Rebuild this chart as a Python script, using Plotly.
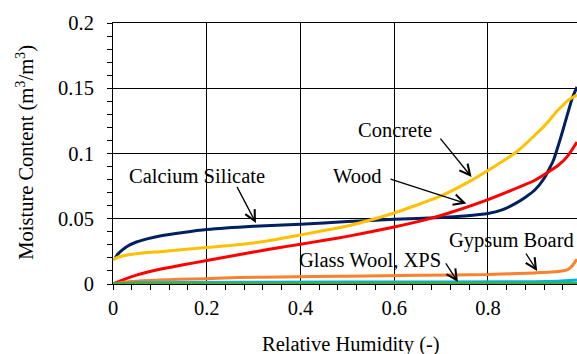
import plotly.graph_objects as go

# ---- data ----
cs_x = [0.005, 0.01, 0.02, 0.03, 0.05, 0.075, 0.1, 0.15, 0.2, 0.3, 0.4, 0.5, 0.6, 0.7, 0.75, 0.8,
        0.83, 0.86, 0.88, 0.9, 0.92, 0.94, 0.95, 0.96, 0.97, 0.98, 0.99]
cs_y = [0.020, 0.0228, 0.0262, 0.0288, 0.0322, 0.0348, 0.0368, 0.0395, 0.0417, 0.0442, 0.0458, 0.0478,
        0.0496, 0.0510, 0.0521, 0.0540, 0.0568, 0.0620, 0.0665, 0.0720, 0.0810, 0.0950, 0.1060,
        0.1180, 0.1305, 0.1425, 0.1510]

con_x = [0.0, 0.01, 0.02, 0.05, 0.1, 0.2, 0.3, 0.35, 0.4, 0.5, 0.555, 0.6, 0.7, 0.75, 0.8, 0.86,
         0.9, 0.93, 0.946, 0.96, 0.97, 0.99]
con_y = [0.0185, 0.0205, 0.0215, 0.0232, 0.0248, 0.0279, 0.0315, 0.0343, 0.0376, 0.0445, 0.0496,
         0.0544, 0.0675, 0.0765, 0.0870, 0.1010, 0.1140, 0.1250, 0.1320, 0.1370, 0.1405, 0.1450]

wood_x = [0.0, 0.02, 0.05, 0.1, 0.15, 0.2, 0.3, 0.356, 0.4, 0.448, 0.5, 0.6, 0.68, 0.72, 0.8, 0.9,
          0.95, 0.97, 0.99]
wood_y = [0.0, 0.0030, 0.0068, 0.0113, 0.0147, 0.0180, 0.0245, 0.0279, 0.0305, 0.0333, 0.0365,
          0.0437, 0.0505, 0.0548, 0.0647, 0.0795, 0.0910, 0.0980, 0.1088]

gyp_x = [0.0, 0.02, 0.05, 0.1, 0.142, 0.2, 0.27, 0.356, 0.5, 0.655, 0.8, 0.9, 0.95, 0.97, 0.98, 0.99]
gyp_y = [0.0, 0.0012, 0.0022, 0.0030, 0.0036, 0.0041, 0.0049, 0.0054, 0.0060, 0.0067, 0.0072,
         0.0085, 0.0095, 0.0110, 0.0140, 0.0190]

xps_x = [0.0, 0.05, 0.5, 0.9, 0.95, 0.99]
xps_y = [0.0, 0.0010, 0.0015, 0.0018, 0.0022, 0.0030]

gw_x = [0.0, 0.5, 0.99]
gw_y = [0.0003, 0.0005, 0.0005]

x_ticks = [0, 0.2, 0.4, 0.6, 0.8]
x_ticklabels = ["0", "0.2", "0.4", "0.6", "0.8"]
y_ticks = [0, 0.05, 0.1, 0.15, 0.2]
y_ticklabels = ["0", "0.05", "0.1", "0.15", "0.2"]

# labels: (text, text_x, text_y, tail_x, tail_y, tip_x, tip_y)
labels = [
    ("Calcium Silicate", 0.180, 0.0825, 0.263, 0.0756, 0.305, 0.0467),
    ("Concrete", 0.602, 0.1178, 0.696, 0.1126, 0.765, 0.0820),
    ("Wood", 0.520, 0.0826, 0.589, 0.0808, 0.754, 0.0616),
    ("Gypsum Board", 0.851, 0.0331, 0.879, 0.0245, 0.905, 0.0100),
    ("Glass Wool, XPS", 0.549, 0.0185, 0.708, 0.0169, 0.736, 0.0015),
]

FONT = "Liberation Serif, Times New Roman, serif"
FS = 20.5

fig = go.Figure()
series = [
    (cs_x, cs_y, "#002060", "Calcium Silicate"),
    (con_x, con_y, "#FFC000", "Concrete"),
    (wood_x, wood_y, "#FF0000", "Wood"),
    (gyp_x, gyp_y, "#FF7F2A", "Gypsum Board"),
    (xps_x, xps_y, "#00B0F0", "XPS"),
    (gw_x, gw_y, "#3CB043", "Glass Wool"),
]
for xs, ys, col, name in series:
    fig.add_trace(go.Scatter(x=xs, y=ys, mode="lines", name=name,
                             line=dict(color=col, width=3, shape="spline", smoothing=0.5)))

for text, tx, ty, ax, ay, hx, hy in labels:
    fig.add_annotation(x=tx, y=ty, xref="x", yref="y", text=text, showarrow=False,
                       xanchor="center", yanchor="middle",
                       font=dict(family=FONT, size=FS, color="black"))
    fig.add_annotation(x=hx, y=hy, ax=ax, ay=ay, xref="x", yref="y", axref="x", ayref="y",
                       text="", showarrow=True, arrowhead=5, arrowsize=1.6, arrowwidth=1.3,
                       arrowcolor="black", standoff=0)

# axis titles as annotations for exact placement
fig.add_annotation(x=0.5126, y=-0.231, xref="paper", yref="paper", text="Relative Humidity (-)",
                   showarrow=False, xanchor="center", yanchor="middle",
                   font=dict(family=FONT, size=FS, color="black"))
fig.add_annotation(x=-0.188, y=0.506, xref="paper", yref="paper",
                   text="Moisture Content (m<sup>3</sup>/m<sup>3</sup>)", textangle=-90,
                   showarrow=False, xanchor="center", yanchor="middle",
                   font=dict(family=FONT, size=FS, color="black"))

fig.update_layout(
    width=577, height=354,
    margin=dict(l=113, r=0, t=23, b=70),
    paper_bgcolor="white", plot_bgcolor="white",
    showlegend=False,
    font=dict(family=FONT, size=FS, color="black"),
)
fig.update_xaxes(range=[0, 0.99], tickvals=x_ticks, ticktext=x_ticklabels,
                 showgrid=True, gridcolor="black", gridwidth=1, zeroline=False,
                 showline=True, linecolor="black", linewidth=1, mirror=True,
                 ticks="outside", ticklen=5, tickcolor="black", ticklabelstandoff=0,
                 minor=dict(dtick=0.04, ticks="outside", ticklen=5, tickcolor="black", showgrid=False),
                 tickfont=dict(family=FONT, size=FS, color="black"))
fig.update_yaxes(range=[0, 0.2], tickvals=y_ticks, ticktext=y_ticklabels,
                 showgrid=True, gridcolor="black", gridwidth=1, zeroline=False,
                 showline=True, linecolor="black", linewidth=1,
                 ticks="outside", ticklen=5, tickcolor="black", ticklabelstandoff=9,
                 minor=dict(dtick=0.01, ticks="outside", ticklen=5, tickcolor="black", showgrid=False),
                 tickfont=dict(family=FONT, size=FS, color="black"))

fig.write_html("out.html")
